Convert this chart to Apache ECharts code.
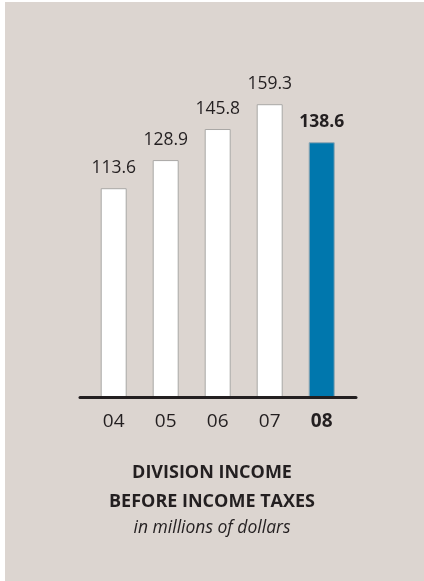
<!DOCTYPE html>
<html>
<head>
<meta charset="utf-8">
<script src="https://cdn.jsdelivr.net/npm/echarts@6/dist/echarts.min.js"></script>
<style>
html,body{margin:0;padding:0;background:#fff;}
#bg{position:absolute;left:5px;top:2px;width:419px;height:579px;background:#dcd5d0;}
#c{position:absolute;left:0;top:0;width:424px;height:581px;}
</style>
</head>
<body>
<div id="bg"></div>
<div id="c"></div>
<script>
const categories = ['04', '05', '06', '07', '08'];
const values = [113.6, 128.9, 145.8, 159.3, 138.6];
const highlightIndex = 4;
const titleLines = ['DIVISION INCOME', 'BEFORE INCOME TAXES'];
const subtitle = 'in millions of dollars';

const FONT = '"Open Sans", "Noto Sans", sans-serif';
const TEXT = '#231f20';

const chart = echarts.init(document.getElementById('c'), null, {renderer: 'canvas'});

const barData = values.map((v, i) => {
  const hi = i === highlightIndex;
  return {
    value: v,
    itemStyle: {
      color: hi ? '#0077ad' : '#ffffff',
      borderColor: hi ? '#8fa6b3' : '#a9a7a5',
      borderWidth: 1
    },
    label: {fontWeight: hi ? 'bold' : 'normal'}
  };
});

chart.setOption({
  animation: false,
  title: {
    text: titleLines.join('\n'),
    subtext: subtitle,
    left: 'center',
    top: 454,
    itemGap: 0,
    textStyle: {fontFamily: FONT, fontSize: 18, fontWeight: 'bold', color: TEXT, lineHeight: 28.3},
    subtextStyle: {fontFamily: FONT, fontSize: 17.5, fontStyle: 'italic', color: TEXT, lineHeight: 25}
  },
  grid: [
    {left: 87.7, width: 260, bottom: 184, top: 29.4, containLabel: false},
    {left: 80, right: 68, bottom: 184, height: 10, containLabel: false}
  ],
  xAxis: [
    {
      type: 'category', gridIndex: 0, data: categories,
      axisLine: {show: false}, axisTick: {show: false},
      axisLabel: {
        interval: 0,
        margin: 15, fontFamily: FONT, fontSize: 19, color: TEXT,
        formatter: (v, i) => i === highlightIndex ? '{b|' + v + '}' : v,
        rich: {b: {fontFamily: FONT, fontSize: 19, fontWeight: 'bold', color: TEXT}}
      }
    },
    {
      type: 'value', gridIndex: 1, min: 0, max: 1, z: 10,
      axisLine: {show: true, lineStyle: {color: '#231f20', width: 3}},
      axisTick: {show: false}, axisLabel: {show: false}, splitLine: {show: false}
    }
  ],
  yAxis: [
    {type: 'value', gridIndex: 0, min: 0, max: 200, show: false},
    {type: 'value', gridIndex: 1, min: 0, max: 1, show: false}
  ],
  series: [{
    type: 'bar', xAxisIndex: 0, yAxisIndex: 0,
    barWidth: 26,
    data: barData,
    label: {
      show: true, position: 'top', distance: 11,
      fontFamily: FONT, fontSize: 17.5, color: TEXT,
      formatter: p => p.value.toFixed(1)
    }
  }]
});
</script>
</body>
</html>
